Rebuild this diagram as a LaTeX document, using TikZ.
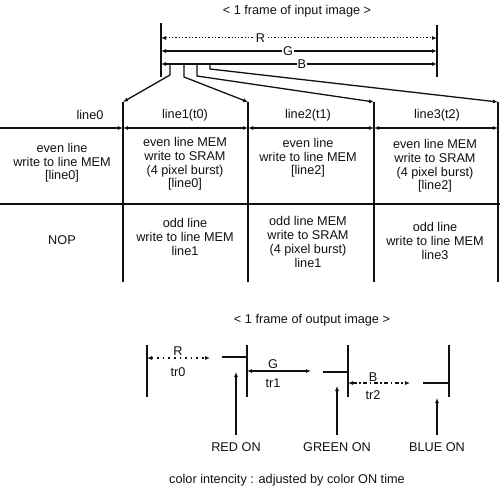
\documentclass[tikz,border=0pt]{standalone}
\usepackage{fontspec}
\setmainfont{Liberation Sans}
\usepackage{xcolor}
\usetikzlibrary{positioning,arrows.meta,calc}
\definecolor{scanink}{HTML}{111111}

\begin{document}
\begin{tikzpicture}[
  x=1pt, y=-1pt,
  font=\fontsize{12.7}{13.7}\selectfont,
  cell/.style={align=center, inner sep=0pt, text=scanink},
  tag/.style={inner sep=1pt, text=scanink},
  bar/.style={draw=scanink, line width=2pt},
  rule/.style={draw=scanink, line width=1.3pt},
  flow/.style={-{Latex[length=5pt,width=4pt]}, draw=scanink, line width=1.3pt},
  span/.style={{Latex[length=5pt,width=4pt]}-{Latex[length=5pt,width=4pt]}, draw=scanink, line width=1.3pt},
  ]
  \useasboundingbox (0,0) rectangle (500,489);

  % Input frame: three colour spans between two bars.
  \node[cell] (intitle) at (297,11) {< 1 frame of input image >};
  \coordinate (inL) at (161,23);
  \coordinate (inR) at (437,25);
  \draw[bar] (inL) -- (161,77);
  \draw[bar] (inR) -- (437,77);
  \draw[span, dotted, line width=1pt] (161,38) -- node[tag, fill=white, pos=.36] (spanR) {R} (437,38);
  \draw[span] (161,51) -- node[tag, fill=white, pos=.46] (spanG) {G} (437,51);
  \draw[span, line width=1.7pt] (161,64) -- node[tag, fill=white, pos=.51] (spanB) {B} (437,64);

  % Table columns; each divider is fed by a branch of the B span.
  \coordinate (d1) at (123,102);
  \coordinate (d2) at (248,102);
  \coordinate (d3) at (374,102);
  \coordinate (d4) at (498,102);
  \foreach \d in {d1,d2,d3,d4}
    \draw[rule] (\d) -- (\d |- 0,282);
  \draw[flow] (170,64) -- (170,75) -- (d1);
  \draw[flow] (184,64) -- (184,77) -- (d2);
  \draw[flow] (197,64) -- (197,76) -- (d3);
  \draw[flow] (210,64) -- (210,69) -- (d4);

  % Line headers and their time spans.
  \node[cell] (h0) at (90,115)  {line0};
  \node[cell] (h1) at (185,115) {line1(t0)};
  \node[cell] (h2) at (308,115) {line2(t1)};
  \node[cell] (h3) at (437,115) {line3(t2)};
  \draw[flow] (0,128) -- (d1 |- 0,128);
  \draw[span] (d1 |- 0,128) -- (d2 |- 0,128);
  \draw[span] (d2 |- 0,128) -- (d3 |- 0,128);
  \draw[span] (d3 |- 0,128) -- (d4 |- 0,128);
  \draw[rule] (0,204) -- (500,204);

  % Even row.
  \node[cell] (e0) at (62,163)  {even line\\write to line MEM\\{[line0]}};
  \node[cell] (e1) at (185,164) {even line MEM\\write to SRAM\\(4 pixel burst)\\{[line0]}};
  \node[cell] (e2) at (308,158) {even line\\write to line MEM\\{[line2]}};
  \node[cell] (e3) at (435,166) {even line MEM\\write to SRAM\\(4 pixel burst)\\{[line2]}};

  % Odd row.
  \node[cell] (o0) at (62,240)  {NOP};
  \node[cell] (o1) at (185,237) {odd line\\write to line MEM\\line1};
  \node[cell] (o2) at (308,242) {odd line MEM\\write to SRAM\\(4 pixel burst)\\line1};
  \node[cell] (o3) at (435,241) {odd line\\write to line MEM\\line3};

  % Output frame: R, G and B on-times in turn.
  \node[cell] (outtitle) at (312,320) {< 1 frame of output image >};
  \coordinate (b0) at (147,345);
  \coordinate (b1) at (247,345);
  \coordinate (b2) at (348,345);
  \coordinate (b3) at (449,345);
  \foreach \b in {b0,b1,b2,b3}
    \draw[bar] (\b) -- ($(\b)+(0,52)$);
  \draw[span, line width=1.6pt, dash pattern=on 1.6pt off 4pt] (147,358) -- (210,358);
  \draw[span] (247,371) -- (311,371);
  \draw[span, line width=1.6pt, dash pattern=on 4pt off 2.5pt on 1.6pt off 2.5pt] (348,383) -- (410,383);
  \draw[rule] (222,357) -- (b1 |- 0,357);
  \draw[rule] (323,372) -- (b2 |- 0,372);
  \draw[rule] (423,383) -- (b3 |- 0,383);
  \node[cell] (tR) at (178,351) {R};
  \node[cell] (tr0) at (178,372) {tr0};
  \node[cell] (tG) at (273,364) {G};
  \node[cell] (tr1) at (273,383) {tr1};
  \node[cell] (tB) at (373,377) {B};
  \node[cell] (tr2) at (373,395) {tr2};

  % Switch-on events.
  \node[cell] (redon) at (236,447) {RED ON};
  \node[cell] (greenon) at (337,447) {GREEN ON};
  \node[cell] (blueon) at (437,447) {BLUE ON};
  \draw[flow] (redon.north |- 0,435) -- (236,372);
  \draw[flow] (greenon.north |- 0,435) -- (337,386);
  \draw[flow] (blueon.north |- 0,435) -- (437,398);

  \node[cell] (note) at (287,480) {color intencity : adjusted by color ON time};
\end{tikzpicture}
\end{document}
